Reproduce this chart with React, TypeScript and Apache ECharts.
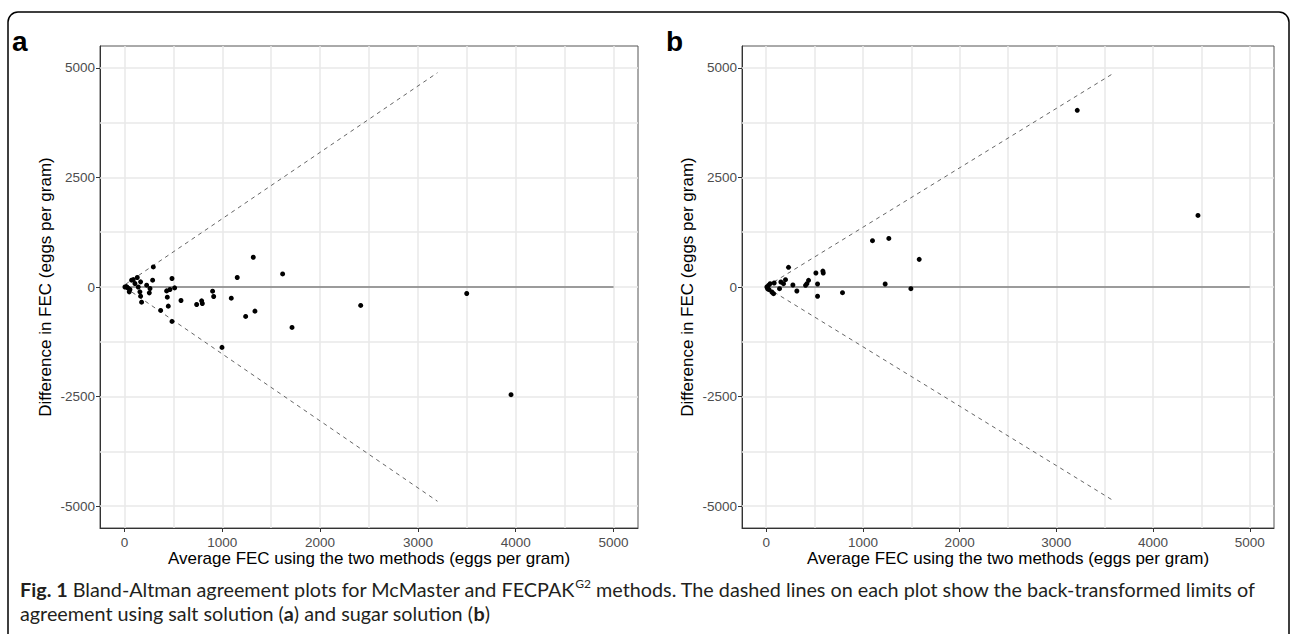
import React, { useEffect, useRef } from "react";
import * as echarts from "echarts";

// ---- data ----
const xTicks = [0, 1000, 2000, 3000, 4000, 5000];
const yTicks = [-5000, -2500, 0, 2500, 5000];
const xGridValues = [0, 500, 1000, 1500, 2000, 2500, 3000, 3500, 4000, 4500, 5000];
const yGridValues = [-5000, -3750, -2500, -1250, 0, 1250, 2500, 3750, 5000];

// Panel a: salt solution
const saltAverage = [5, 28, 56, 49, 73, 90, 131, 107, 141, 165, 158, 165, 175, 227, 261, 254, 288, 295, 370, 438, 448, 431, 465, 486, 513, 486, 578, 738, 789, 796, 901, 912, 997, 1092, 1153, 1239, 1334, 1317, 1617, 1713, 2415, 3499, 3952, 20, 40];
const saltDifference = [0, -10, -57, -111, 155, 170, 216, 80, 0, 117, -111, -210, -346, 41, -34, -134, 155, 458, -535, -232, -437, -89, -57, 194, -20, -786, -308, -399, -316, -376, -96, -216, -1378, -255, 216, -672, -551, 679, 298, -923, -421, -148, -2458, 10, -30];
const saltUpperX = [10, 3200];
const saltUpperY = [60, 4890];
const saltLowerX = [10, 3200];
const saltLowerY = [-15, -4890];

// Panel b: sugar solution
const sugarAverage = [7, 24, 41, 59, 76, 83, 138, 152, 179, 200, 231, 276, 317, 407, 421, 438, 514, 531, 531, 586, 590, 789, 1099, 1230, 1268, 1496, 1582, 3216, 4464, 15, 30];
const sugarDifference = [0, 38, 76, -114, -152, 91, -38, 114, 76, 167, 449, 46, -91, 38, 76, 152, 319, 68, -212, 364, 319, -129, 1057, 68, 1109, -38, 631, 4032, 1633, -40, -60];
const sugarUpperX = [10, 3600];
const sugarUpperY = [20, 4890];
const sugarLowerX = [10, 3600];
const sugarLowerY = [-20, -4890];

const zeroLineX = [0, 5000];
const zeroLineY = [0, 0];

const xTitle = "Average FEC using the two methods (eggs per gram)";
const yTitle = "Difference in FEC (eggs per gram)";

const FONT = "'Liberation Sans', Arial, sans-serif";

function zip(xs: number[], ys: number[]) {
  return xs.map((x, i) => [x, ys[i]]);
}

function panelSeries(gi: number, avg: number[], diff: number[], ux: number[], uy: number[], lx: number[], ly: number[]) {
  return [
    {
      type: "line",
      xAxisIndex: gi,
      yAxisIndex: gi,
      data: [],
      silent: true,
      z: 0,
      markLine: {
        silent: true,
        symbol: ["none", "none"],
        label: { show: false },
        animation: false,
        lineStyle: { color: "#e9e9e9", width: 1.5, type: "solid" },
        data: [
          ...xGridValues.map((v) => ({ xAxis: v })),
          ...yGridValues.map((v) => ({ yAxis: v })),
        ],
      },
    },
    {
      type: "line",
      xAxisIndex: gi,
      yAxisIndex: gi,
      data: zip(zeroLineX, zeroLineY),
      symbol: "none",
      silent: true,
      z: 5,
      lineStyle: { color: "#7f7f7f", width: 1.6 },
    },
    {
      type: "line",
      xAxisIndex: gi,
      yAxisIndex: gi,
      data: zip(ux, uy),
      symbol: "none",
      silent: true,
      z: 5,
      lineStyle: { color: "#666", width: 1, type: [4, 4] },
    },
    {
      type: "line",
      xAxisIndex: gi,
      yAxisIndex: gi,
      data: zip(lx, ly),
      symbol: "none",
      silent: true,
      z: 5,
      lineStyle: { color: "#666", width: 1, type: [4, 4] },
    },
    {
      type: "scatter",
      xAxisIndex: gi,
      yAxisIndex: gi,
      data: zip(avg, diff),
      symbolSize: 5,
      z: 6,
      itemStyle: { color: "#000", opacity: 1 },
    },
  ];
}

const plainNumber = (v: number) => String(v);

function xAxisDef(gi: number) {
  return {
    type: "value",
    gridIndex: gi,
    min: -250,
    max: 5250,
    name: xTitle,
    nameLocation: "middle",
    nameGap: 22,
    nameMoveOverlap: false,
    nameTextStyle: { fontFamily: FONT, fontSize: 17, color: "#000" },
    axisLine: { show: true, onZero: false, lineStyle: { color: "#333", width: 1 } },
    axisTick: { show: true, customValues: xTicks, length: 4, lineStyle: { color: "#333" } },
    axisLabel: { show: true, customValues: xTicks, formatter: plainNumber, color: "#4d4d4d", fontSize: 13.5, fontFamily: FONT, margin: 7 },
    splitLine: { show: false },
  };
}

function yAxisDef(gi: number) {
  return {
    type: "value",
    gridIndex: gi,
    min: -5500,
    max: 5500,
    name: yTitle,
    nameLocation: "middle",
    nameGap: 46,
    nameMoveOverlap: false,
    nameRotate: 90,
    nameTextStyle: { fontFamily: FONT, fontSize: 17, color: "#000" },
    axisLine: { show: true, onZero: false, lineStyle: { color: "#333", width: 1 } },
    axisTick: { show: true, customValues: yTicks, length: 4, lineStyle: { color: "#333" } },
    axisLabel: { show: true, customValues: yTicks, formatter: plainNumber, color: "#4d4d4d", fontSize: 13.5, fontFamily: FONT, margin: 5 },
    splitLine: { show: false },
  };
}

export default function App() {
  const ref = useRef<HTMLDivElement>(null);
  useEffect(() => {
    if (!ref.current) return;
    const chart = echarts.init(ref.current, undefined, { renderer: "svg" });
    const option: any = {
      animation: false,
      backgroundColor: "#fff",
      grid: [
        { left: 100, top: 46, width: 538, height: 482, show: true, borderColor: "#555", borderWidth: 1, backgroundColor: "transparent" },
        { left: 742, top: 46, width: 532, height: 482, show: true, borderColor: "#555", borderWidth: 1, backgroundColor: "transparent" },
      ],
      xAxis: [xAxisDef(0), xAxisDef(1)],
      yAxis: [yAxisDef(0), yAxisDef(1)],
      series: [
        ...panelSeries(0, saltAverage, saltDifference, saltUpperX, saltUpperY, saltLowerX, saltLowerY),
        ...panelSeries(1, sugarAverage, sugarDifference, sugarUpperX, sugarUpperY, sugarLowerX, sugarLowerY),
      ],
      graphic: [
        {
          type: "rect",
          shape: { x: 8, y: 12, width: 1281, height: 700, r: [10, 10, 0, 0] },
          style: { fill: "none", stroke: "#000", lineWidth: 1.5 },
          silent: true,
          z: 0,
        },
        {
          type: "text",
          left: 12,
          top: 27,
          style: { text: "a", font: "bold 28px 'Liberation Sans', Arial, sans-serif", fill: "#000" },
        },
        {
          type: "text",
          left: 666,
          top: 27,
          style: { text: "b", font: "bold 28px 'Liberation Sans', Arial, sans-serif", fill: "#000" },
        },
        {
          type: "text",
          left: 20,
          top: 577,
          style: {
            text:
              "{b|Fig. 1} Bland-Altman agreement plots for McMaster and FECPAK{sup|G2} methods. The dashed lines on each plot show the back-transformed limits of\nagreement using salt solution ({b|a}) and sugar solution ({b|b})",
            fontFamily: "Lato",
            fontSize: 19.8,
            lineHeight: 24,
            fill: "#231f20",
            rich: {
              b: { fontFamily: "Lato", fontSize: 19.8, fontWeight: "bold", fill: "#231f20", lineHeight: 24 },
              sup: { fontFamily: "Lato", fontSize: 12, fill: "#231f20", verticalAlign: "top", lineHeight: 24, padding: [0, 0, 6, 0] },
            },
          },
        },
      ],
    };
    chart.setOption(option);
    return () => chart.dispose();
  }, []);
  return <div ref={ref} style={{ position: "fixed", left: 0, top: 0, width: 1293, height: 634 }} />;
}
